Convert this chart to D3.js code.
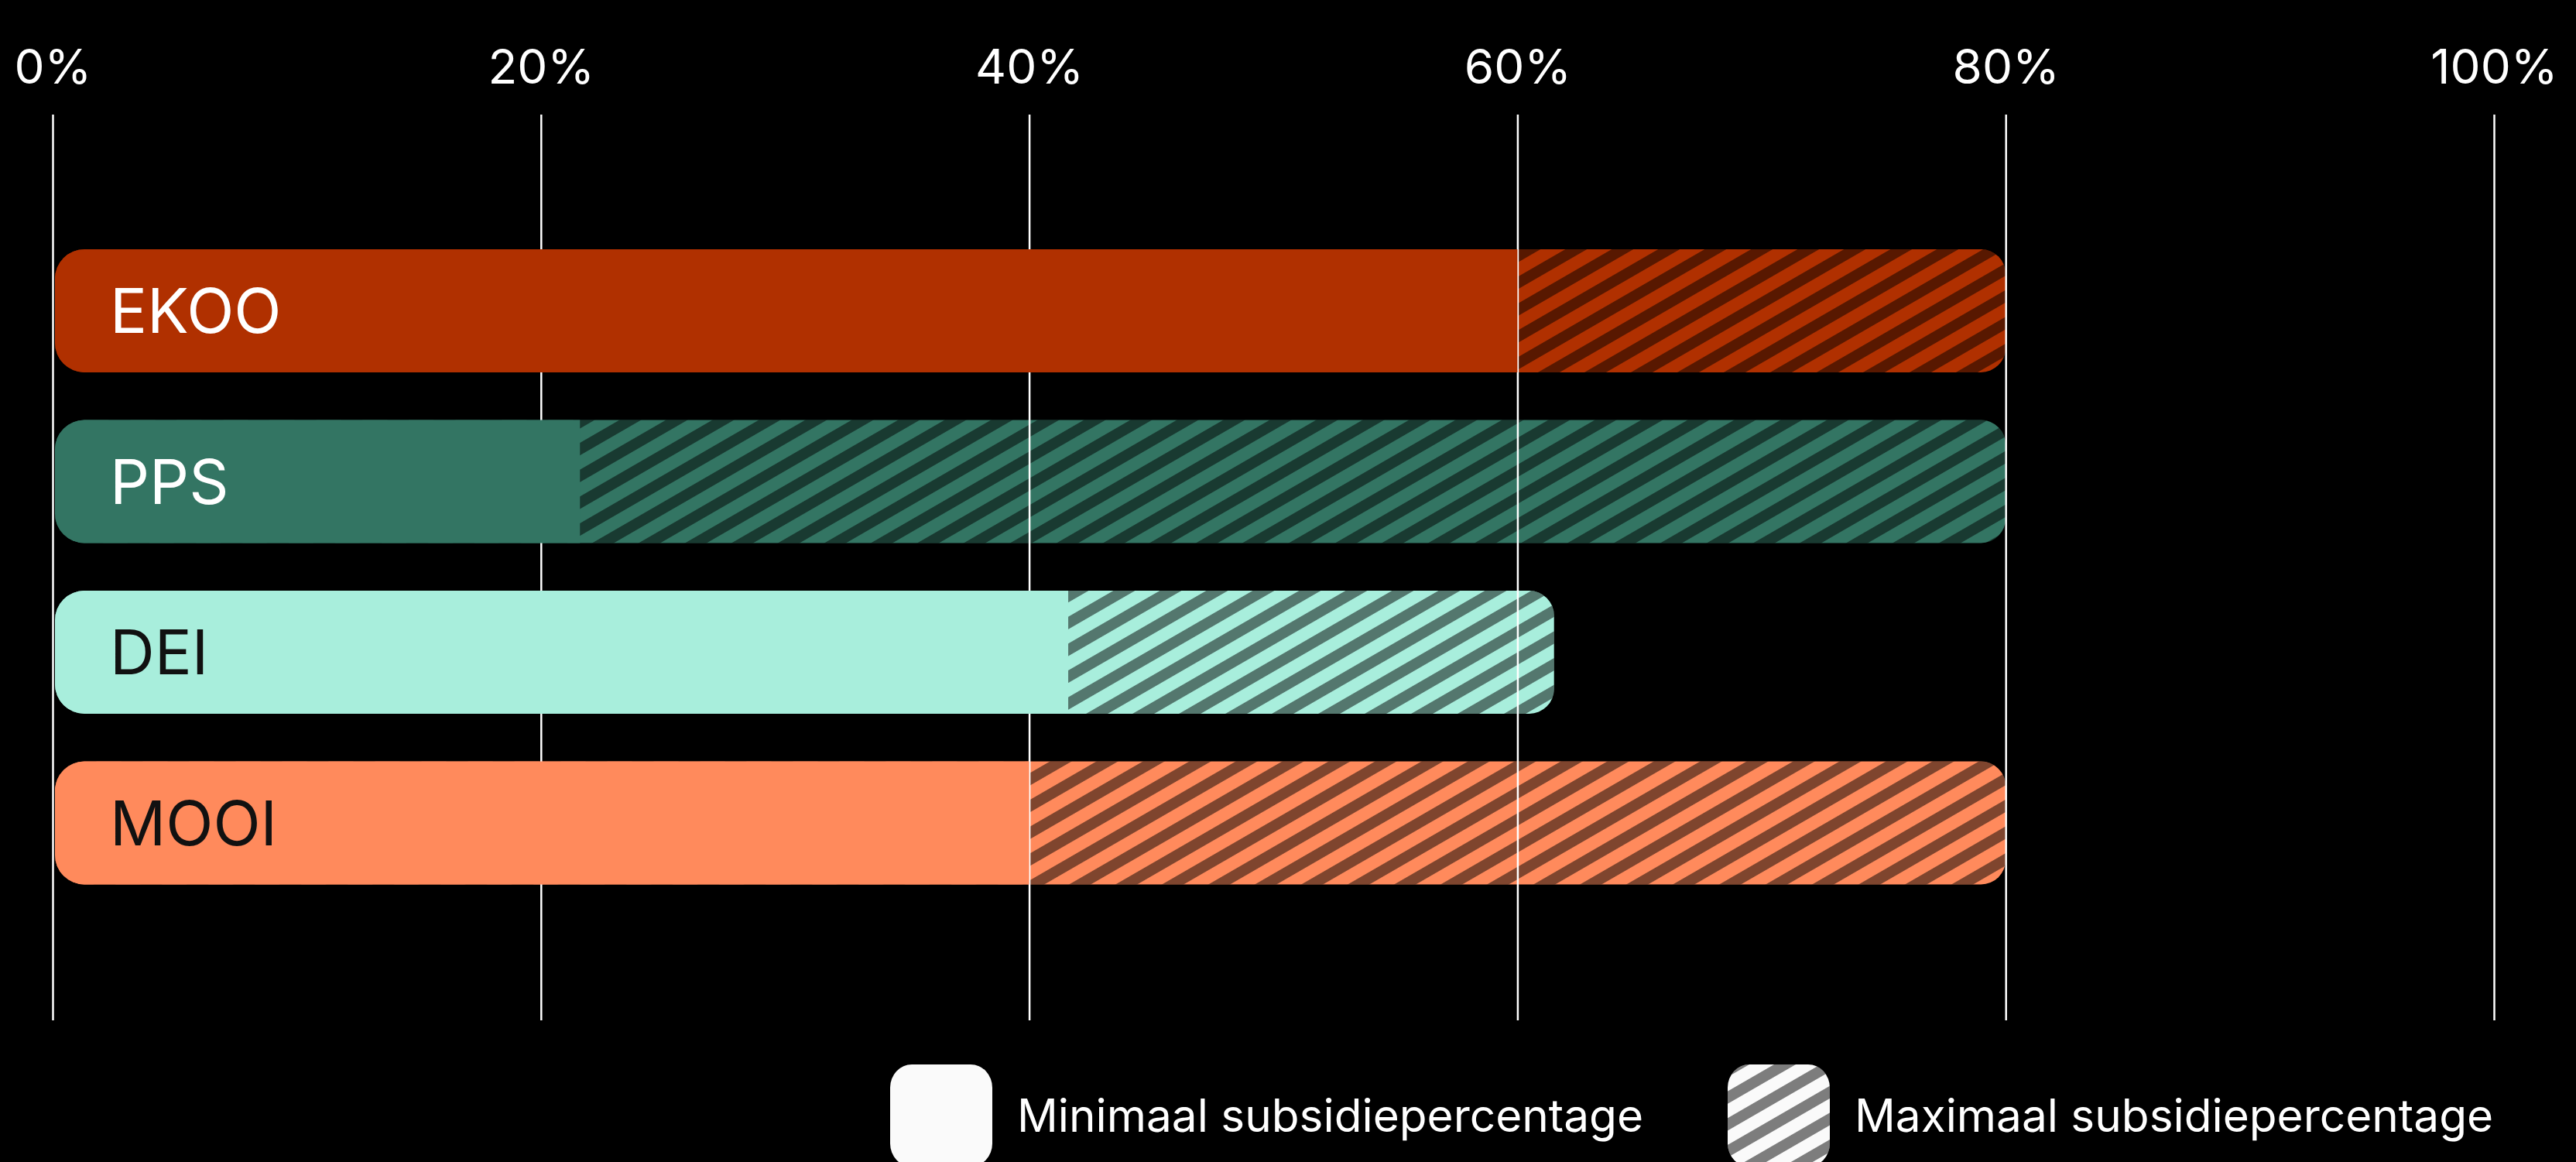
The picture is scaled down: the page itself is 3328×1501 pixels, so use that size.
<!DOCTYPE html>
<html>
<head>
<meta charset="utf-8">
<script src="https://cdn.jsdelivr.net/npm/d3@7"></script>
<style>
  html, body { margin: 0; padding: 0; background: #000; }
  svg { display: block; }
</style>
</head>
<body>
<script>
// ---- data ----
const categories = ["EKOO", "PPS", "DEI", "MOOI"];
const minValues = [60, 21.6, 41.6, 40];
const maxValues = [80, 80, 61.5, 80];
const baseColors = ["#B03000", "#337563", "#A8EEDC", "#FF8A5C"];
const labelColors = ["#FFFFFF", "#FFFFFF", "#111111", "#111111"];
const tickValues = [0, 20, 40, 60, 80, 100];
const legendLabels = ["Minimaal subsidiepercentage", "Maximaal subsidiepercentage"];

const W = 3328, H = 1501;
const FONT = "Inter, 'Noto Sans', sans-serif";

const svg = d3.select("body").append("svg")
  .attr("width", W).attr("height", H)
  .style("background", "#000");

const x = d3.scaleLinear().domain([0, 100]).range([68, 3222]);
const y = d3.scaleBand().domain(categories).range([322, 1142.5]).paddingInner(0.279).paddingOuter(0);

const defs = svg.append("defs");
const pat = defs.append("pattern")
  .attr("id", "hatch")
  .attr("patternUnits", "userSpaceOnUse")
  .attr("width", 30).attr("height", 30)
  .attr("patternTransform", "rotate(-30)");
pat.append("rect").attr("x", 0).attr("y", 0).attr("width", 30).attr("height", 14)
  .attr("fill", "rgba(0,0,0,0.5)");

function roundedPath(x0, y0, w, h, rl, rr) {
  const p = d3.path();
  p.moveTo(x0 + rl, y0);
  p.lineTo(x0 + w - rr, y0);
  if (rr > 0) p.arcTo(x0 + w, y0, x0 + w, y0 + rr, rr);
  p.lineTo(x0 + w, y0 + h - rr);
  if (rr > 0) p.arcTo(x0 + w, y0 + h, x0 + w - rr, y0 + h, rr);
  p.lineTo(x0 + rl, y0 + h);
  if (rl > 0) p.arcTo(x0, y0 + h, x0, y0 + h - rl, rl);
  p.lineTo(x0, y0 + rl);
  if (rl > 0) p.arcTo(x0, y0, x0 + rl, y0, rl);
  p.closePath();
  return p.toString();
}

const data = categories.map((c, i) => ({
  cat: c, min: minValues[i], max: maxValues[i], color: baseColors[i], label: labelColors[i]
}));

const barStart = x(0) + 3;
const RL = 38, RR = 32;

// hatch layer (full bar, rounded both ends)
const hatchG = svg.append("g");
hatchG.selectAll("path.base").data(data).join("path")
  .attr("class", "base")
  .attr("d", d => roundedPath(barStart, y(d.cat), x(d.max) - barStart, y.bandwidth(), RL, RR))
  .attr("fill", d => d.color);
hatchG.selectAll("path.hatch").data(data).join("path")
  .attr("class", "hatch")
  .attr("d", d => roundedPath(barStart, y(d.cat), x(d.max) - barStart, y.bandwidth(), RL, RR))
  .attr("fill", "url(#hatch)");

// axis + gridlines
const axis = d3.axisTop(x)
  .tickValues(tickValues)
  .tickFormat(d => d + "%")
  .tickSize(-(1318 - 148))
  .tickPadding(40);
const axG = svg.append("g").attr("transform", "translate(0,148)").call(axis);
axG.select(".domain").remove();
axG.selectAll(".tick line").attr("stroke", "#fff").attr("stroke-width", 2.5);
axG.selectAll(".tick text")
  .attr("fill", "#fff")
  .style("font-family", FONT)
  .style("font-size", "62px")
  .style("font-weight", 400);

// solid layer (0 -> min), rounded left only
const solidG = svg.append("g");
solidG.selectAll("path").data(data).join("path")
  .attr("d", d => roundedPath(barStart, y(d.cat), x(d.min) - barStart, y.bandwidth(), RL, 0))
  .attr("fill", d => d.color);

// bar labels
svg.append("g").selectAll("text").data(data).join("text")
  .attr("x", 142)
  .attr("y", d => y(d.cat) + y.bandwidth() / 2)
  .attr("dy", "0.36em")
  .attr("fill", d => d.label)
  .style("font-family", FONT)
  .style("font-size", "80px")
  .style("font-weight", 400)
  .text(d => d.cat);

// legend
const legendX = [1150, 2232];
const legG = svg.append("g");
legendLabels.forEach((lab, i) => {
  const g = legG.append("g").attr("transform", `translate(${legendX[i]},1375)`);
  g.append("rect").attr("width", 132).attr("height", 132).attr("rx", 28).attr("ry", 30)
    .attr("fill", "#FAFAFA");
  if (i === 1) {
    g.append("rect").attr("width", 132).attr("height", 132).attr("rx", 28).attr("ry", 30)
      .attr("fill", "url(#hatch)");
  }
  g.append("text")
    .attr("x", 164).attr("y", 87)
    .attr("fill", "#fff")
    .style("font-family", FONT)
    .style("font-size", "58.5px")
    .text(lab);
});
</script>
</body>
</html>
